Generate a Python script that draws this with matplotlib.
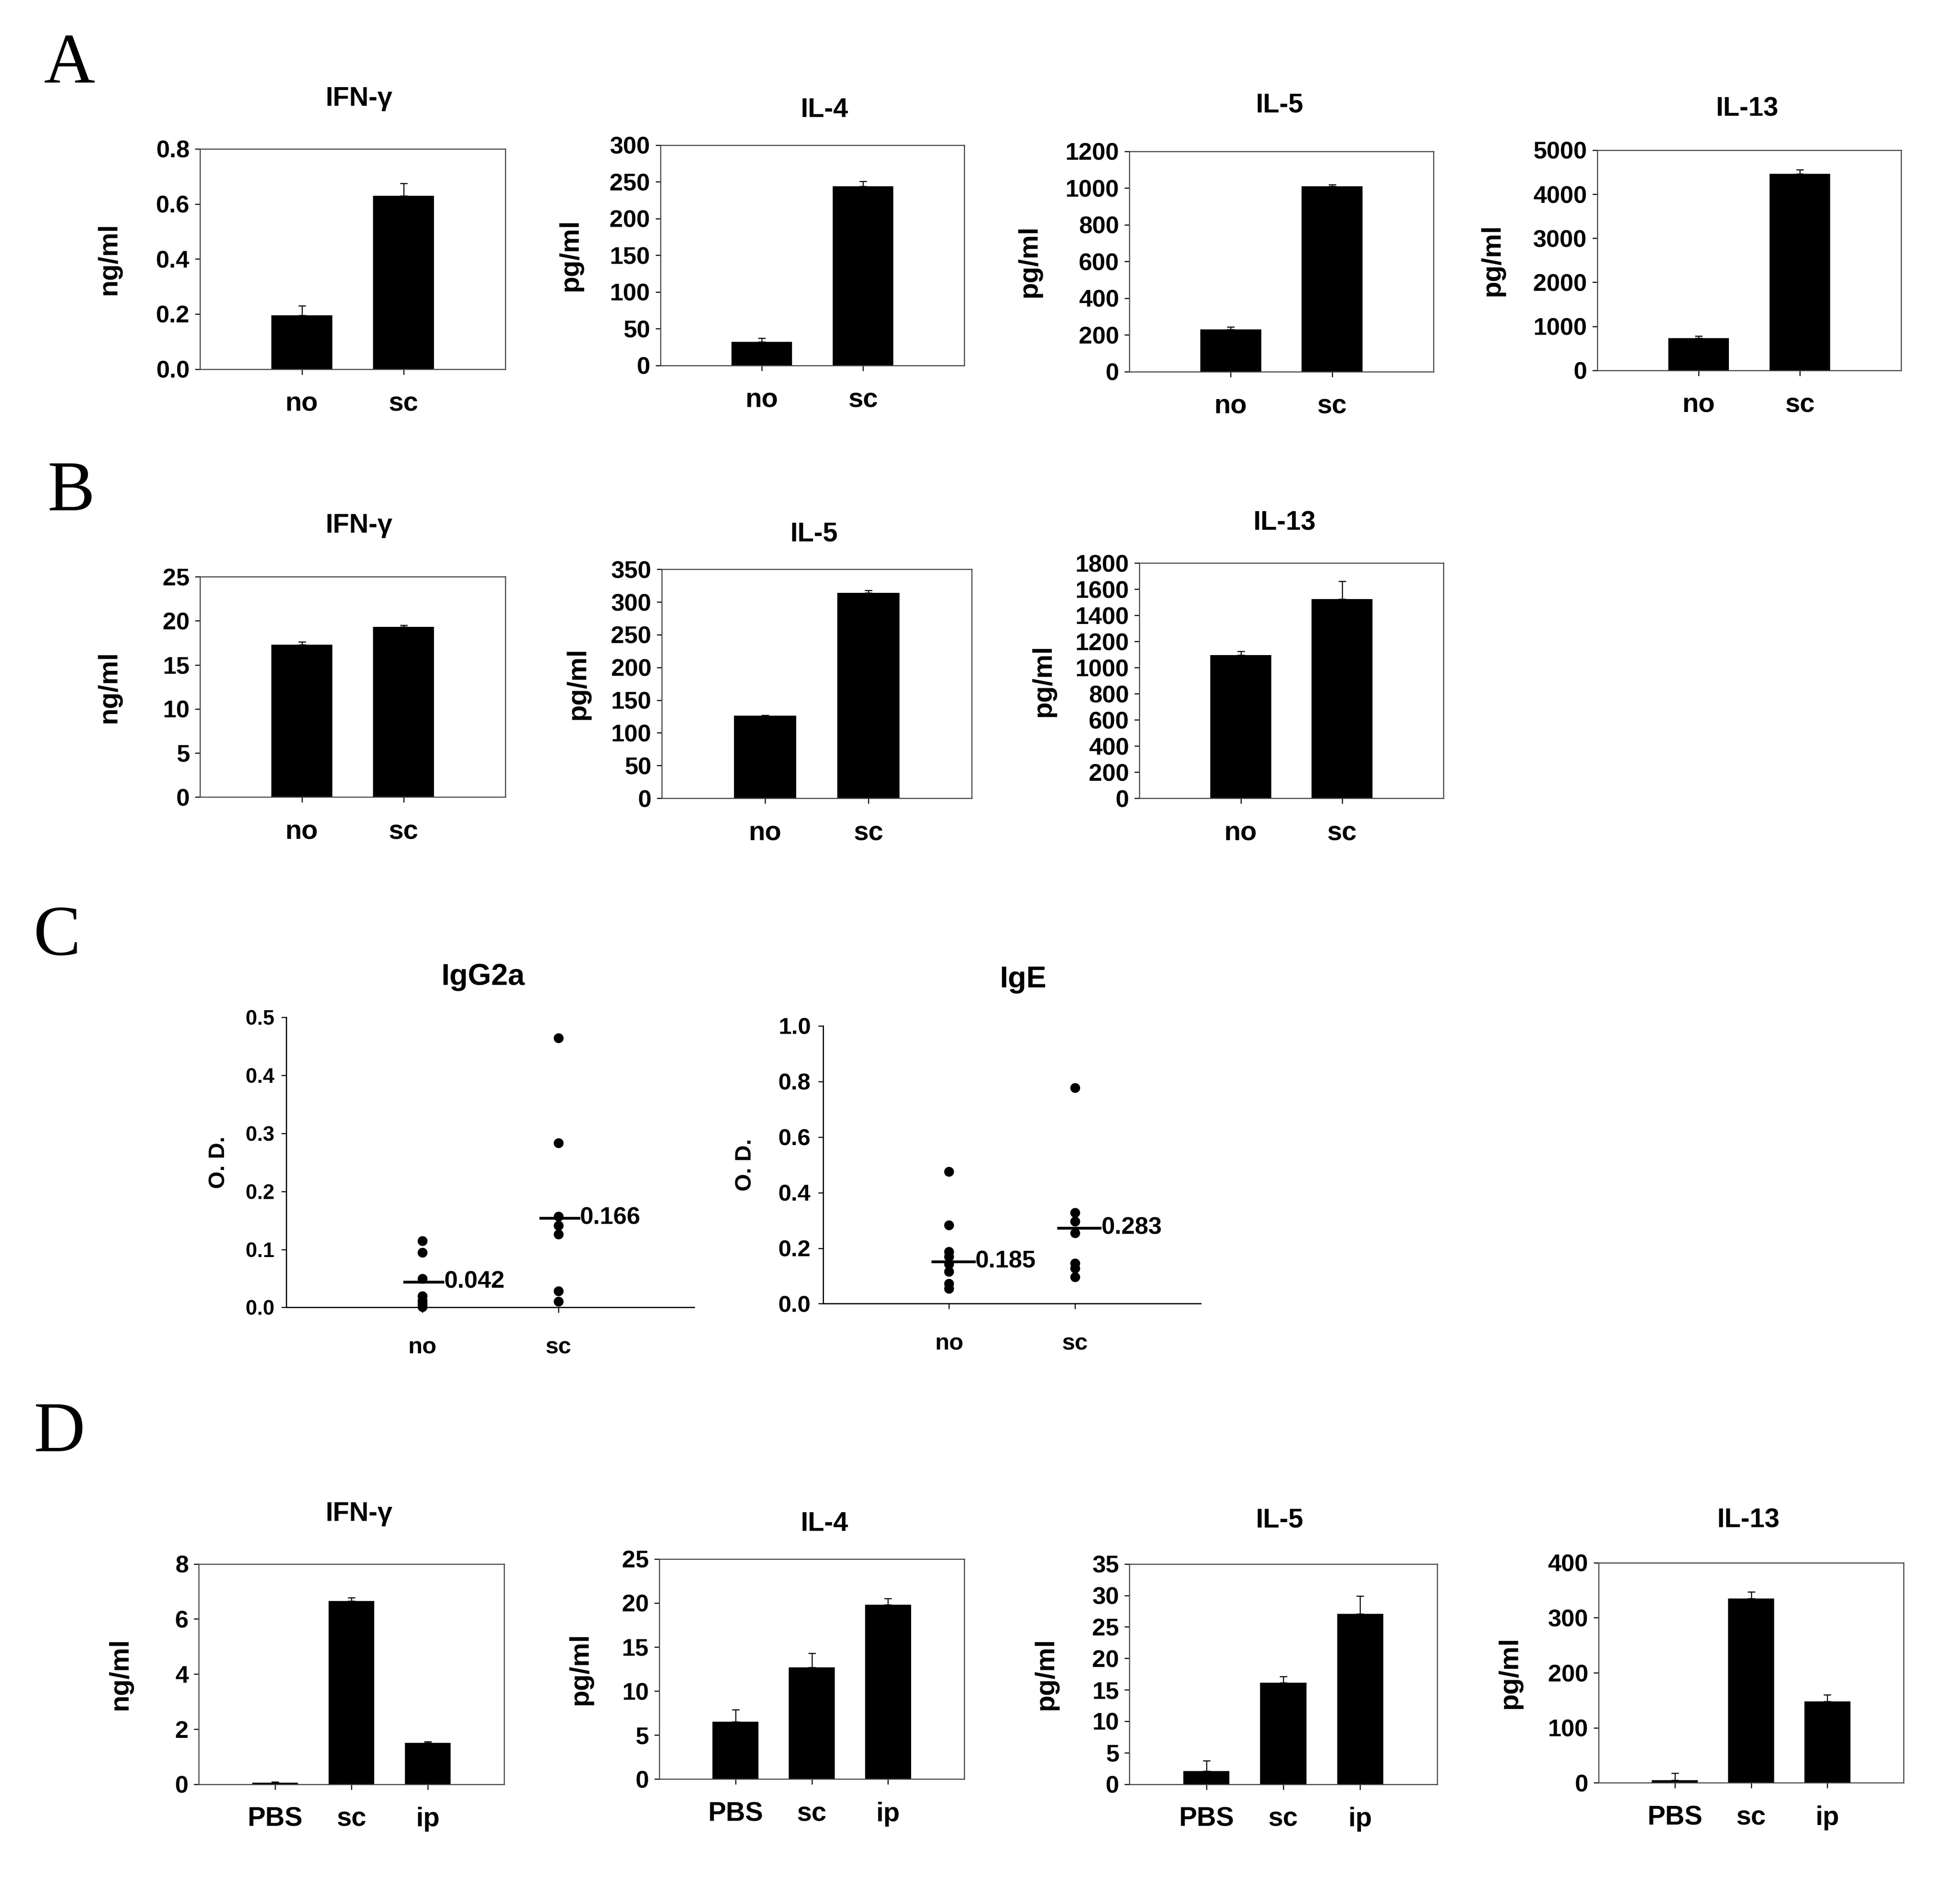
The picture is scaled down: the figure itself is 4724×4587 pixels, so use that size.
import matplotlib
matplotlib.use('Agg')
import matplotlib.pyplot as plt
from matplotlib.transforms import blended_transform_factory

plt.rcParams['font.family'] = ['Liberation Sans', 'DejaVu Sans']
plt.rcParams['font.weight'] = 'bold'

# ---- data ----
cats2 = ['no', 'sc']
cats3 = ['PBS', 'sc', 'ip']

a_titles = ['IFN-\u03b3', 'IL-4', 'IL-5', 'IL-13']
a_units = ['ng/ml', 'pg/ml', 'pg/ml', 'pg/ml']
a_means = [[0.195, 0.63], [32, 244], [230, 1010], [730, 4460]]
a_errs = [[0.035, 0.045], [5, 7], [13, 10], [50, 100]]
a_ymax = [0.8, 300, 1200, 5000]
a_step = [0.2, 50, 200, 1000]

b_titles = ['IFN-\u03b3', 'IL-5', 'IL-13']
b_units = ['ng/ml', 'pg/ml', 'pg/ml']
b_means = [[17.3, 19.3], [126, 314], [1095, 1525]]
b_errs = [[0.3, 0.2], [1, 4], [30, 135]]
b_ymax = [25, 350, 1800]
b_step = [5, 50, 200]

igg2a_no = [0.115, 0.095, 0.05, 0.02, 0.012, 0.006, 0.001]
igg2a_sc = [0.464, 0.283, 0.157, 0.141, 0.126, 0.028, 0.010]
igg2a_line = [0.044, 0.154]
igg2a_lab = ['0.042', '0.166']
ige_no = [0.475, 0.283, 0.188, 0.169, 0.143, 0.116, 0.073, 0.054]
ige_sc = [0.777, 0.328, 0.297, 0.254, 0.145, 0.128, 0.097]
ige_line = [0.152, 0.273]
ige_lab = ['0.185', '0.283']

d_titles = ['IFN-\u03b3', 'IL-4', 'IL-5', 'IL-13']
d_units = ['ng/ml', 'pg/ml', 'pg/ml', 'pg/ml']
d_means = [[0.05, 6.65, 1.5], [6.5, 12.7, 19.8], [2.1, 16.1, 27.1], [5, 335, 148]]
d_errs = [[0.03, 0.13, 0.05], [1.4, 1.6, 0.7], [1.6, 1.0, 2.8], [13, 12, 12]]
d_ymax = [8, 25, 35, 400]
d_step = [2, 5, 5, 100]

# layout measured on a 1567 x 1521 view of the reference
W, H = 1567.0, 1521.0
fig = plt.figure(figsize=(4724 / 300, 4587 / 300), dpi=300)


def box(x0, y0, x1, y1):
    return fig.add_axes([x0 / W, 1 - y1 / H, (x1 - x0) / W, (y1 - y0) / H])


def place_texts(ax, title, tx, ty, tsize, unit, lx, lsize):
    fig.text(tx / W, 1 - ty / H, title, fontsize=tsize, fontweight='bold',
             ha='center', va='center')
    ax.set_ylabel(unit, fontsize=lsize, fontweight='bold')
    ax.yaxis.set_label_coords(lx / W, 0.5,
                              transform=blended_transform_factory(fig.transFigure, ax.transAxes))
    ax.yaxis.label.set_va('center')


def fmt(step):
    if step < 1:
        return lambda v: '%.1f' % v
    return lambda v: '%d' % round(v)


def bar_panel(ax, cats, means, errs, ymax, step):
    n = len(cats)
    xs = list(range(1, n + 1))
    ax.bar(xs, means, width=0.6, color='black')
    ax.errorbar(xs, means, yerr=[[0] * n, errs], fmt='none', ecolor='black',
                elinewidth=0.6, capsize=2.2, capthick=0.6)
    ax.set_xlim(0, n + 1)
    ax.set_ylim(0, ymax)
    ticks = [i * step for i in range(int(round(ymax / step)) + 1)]
    ax.set_yticks(ticks)
    f = fmt(step)
    ax.set_yticklabels([f(t) for t in ticks], fontsize=14, fontweight='bold')
    ax.set_xticks(xs)
    ax.set_xticklabels(cats, fontsize=15.5, fontweight='bold')
    ax.tick_params(axis='x', length=3, width=0.6, pad=10)
    ax.tick_params(axis='y', length=3, width=0.6, pad=3)
    for s in ax.spines.values():
        s.set_linewidth(0.6)
        s.set_color('#404040')


def dot_panel(ax, no, sc, lines, labs, ymax, step, right, tsize):
    ax.scatter([1] * len(no), no, s=22, color='black', zorder=3, clip_on=False)
    ax.scatter([2] * len(sc), sc, s=22, color='black', zorder=3, clip_on=False)
    for i, (v, lab) in enumerate(zip(lines, labs)):
        x = i + 1
        ax.plot([x - 0.13, x + right], [v, v], color='black', lw=1.6)
        ax.text(x + right + 0.01, v, lab, fontsize=14, fontweight='bold', va='center', ha='left')
    ax.set_xlim(0, 3)
    ax.set_ylim(0, ymax)
    ticks = [round(i * step, 2) for i in range(int(round(ymax / step)) + 1)]
    ax.set_yticks(ticks)
    ax.set_yticklabels(['%.1f' % t for t in ticks], fontsize=tsize, fontweight='bold')
    ax.set_xticks([1, 2])
    ax.set_xticklabels(cats2, fontsize=13.5, fontweight='bold')
    ax.tick_params(axis='x', length=3, width=0.6, pad=14)
    ax.tick_params(axis='y', length=3, width=0.6, pad=4)
    ax.spines['top'].set_visible(False)
    ax.spines['right'].set_visible(False)
    for s in ax.spines.values():
        s.set_linewidth(0.7)


# row A: axes box, title centre, ylabel centre x
a_pos = [(160, 119, 404, 295), (528, 116, 771, 292), (903, 121, 1146, 297), (1277, 120, 1520, 296)]
a_tpos = [(287, 79), (659, 88), (1023, 84), (1397, 87)]
a_lx = [87, 456, 823, 1193]
for i, p in enumerate(a_pos):
    ax = box(*p)
    bar_panel(ax, cats2, a_means[i], a_errs[i], a_ymax[i], a_step[i])
    place_texts(ax, a_titles[i], a_tpos[i][0], a_tpos[i][1], 15.5, a_units[i], a_lx[i], 15.7)

# row B
b_pos = [(160, 461, 404, 637), (529, 455, 777, 638), (911, 450, 1154, 638)]
b_tpos = [(287, 420), (651, 427), (1027, 418)]
b_lx = [87, 462, 834]
for i, p in enumerate(b_pos):
    ax = box(*p)
    bar_panel(ax, cats2, b_means[i], b_errs[i], b_ymax[i], b_step[i])
    place_texts(ax, b_titles[i], b_tpos[i][0], b_tpos[i][1], 15.5, b_units[i], b_lx[i], 15.7)

# row C
ax = box(229, 813, 555, 1045)
dot_panel(ax, igg2a_no, igg2a_sc, igg2a_line, igg2a_lab, 0.5, 0.1, 0.15, 12)
place_texts(ax, 'IgG2a', 386, 781, 17.4, 'O. D.', 175, 13)
ax = box(658, 820, 960, 1042)
dot_panel(ax, ige_no, ige_sc, ige_line, ige_lab, 1.0, 0.2, 0.2, 13.5)
place_texts(ax, 'IgE', 818, 783, 17.4, 'O. D.', 596, 13)

# row D
d_pos = [(159, 1250, 403, 1426), (527, 1246, 771, 1422), (903, 1250, 1149, 1426), (1278, 1249, 1522, 1425)]
d_tpos = [(287, 1210), (659, 1218), (1023, 1215), (1398, 1215)]
d_lx = [96, 464, 836, 1207]
for i, p in enumerate(d_pos):
    ax = box(*p)
    bar_panel(ax, cats3, d_means[i], d_errs[i], d_ymax[i], d_step[i])
    place_texts(ax, d_titles[i], d_tpos[i][0], d_tpos[i][1], 15.5, d_units[i], d_lx[i], 15.7)

# panel letters
for lab, x, y in [('A', 35, 66), ('B', 38, 408), ('C', 27, 763), ('D', 27, 1160)]:
    fig.text(x / W, 1 - y / H, lab, fontsize=41, family='Liberation Serif',
             fontweight='normal', ha='left', va='baseline')

fig.savefig('out.png', dpi=300, facecolor='white')
